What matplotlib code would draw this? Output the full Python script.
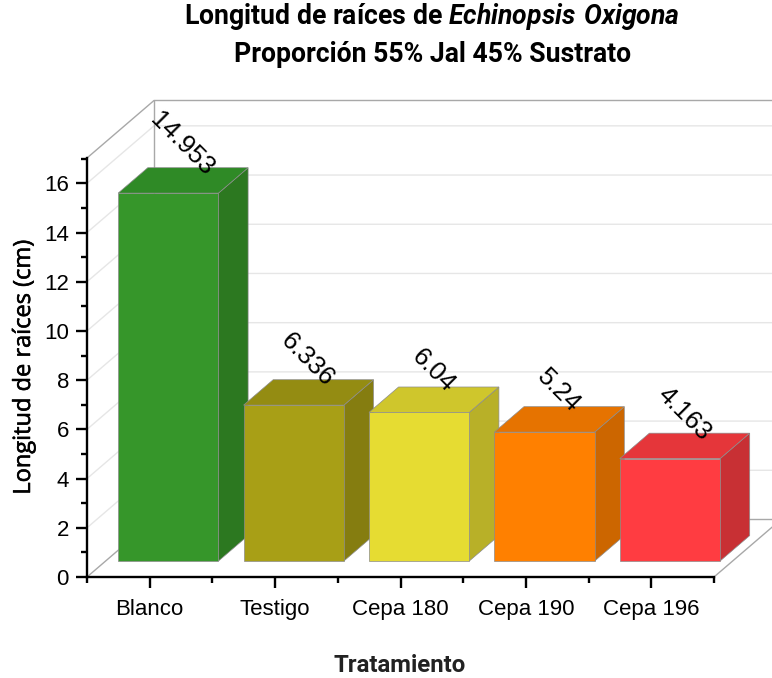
import matplotlib
matplotlib.use("Agg")
import matplotlib.pyplot as plt
import matplotlib.patheffects as pe
from matplotlib.patches import Polygon
from matplotlib.ticker import MultipleLocator, FixedLocator, NullFormatter

# --- Data ---
categories = ['Blanco', 'Testigo', 'Cepa 180', 'Cepa 190', 'Cepa 196']
longitud = [14.953, 6.336, 6.04, 5.24, 4.163]
value_labels = ['14.953', '6.336', '6.04', '5.24', '4.163']

front_colors = ['#36962A', '#A89F16', '#E6DC32', '#FF8000', '#FF3C41']
top_colors = ['#2F8A26', '#948C12', '#CFC62C', '#E67300', '#E5363A']
side_colors = ['#2C7820', '#857D10', '#B8B028', '#CC6600', '#C83034']

# --- Oblique 3D settings, depth 0 = front of the box, 1 = back wall ---
W, H = 772, 678
x0_px, x1_px, y0_px, y1_px = 87, 714, 577, 158
y_max = 17.03
depth_x = 67 / ((x1_px - x0_px) / 5)  # shift in category units for depth 1
depth_y = 57.5 / ((y0_px - y1_px) / y_max)  # shift in value units for depth 1
bar_width = 0.8
d_front, d_back = 0.278, 0.72


def proj(x, y, d):
    return (x + d * depth_x, y + d * depth_y)


plt.rcParams['font.family'] = ['Liberation Sans', 'DejaVu Sans']
plt.rcParams['mathtext.fontset'] = 'custom'
plt.rcParams['mathtext.rm'] = 'Roboto:bold'
plt.rcParams['mathtext.bfit'] = 'Roboto:italic:bold'

fig = plt.figure(figsize=(W / 100, H / 100), dpi=100)
ax = fig.add_axes([x0_px / W, 1 - y0_px / H, (x1_px - x0_px) / W, (y0_px - y1_px) / H])
ax.set_xlim(0.5, 5.5)
ax.set_ylim(0, y_max)
ax.patch.set_visible(False)

# --- Walls and gridlines ---
xl, xr = 0.5, 5.5
for v in range(2, 17, 2):
    xs, ys = zip(proj(xl, v, 0), proj(xl, v, 1), proj(xr, v, 1))
    ax.plot(xs, ys, color='#E6E6E6', lw=1.0, clip_on=False, zorder=1)

frame_col = '#A8A8A8'
frame = [
    [proj(xl, y_max, 0), proj(xl, y_max, 1), proj(xr, y_max, 1)],
    [proj(xl, 0, 1), proj(xl, y_max, 1)],
    [proj(xl, 0, 0), proj(xl, 0, 1), proj(xr, 0, 1)],
    [proj(xr, 0, 0), proj(xr, 0, 1)],
]
for seg in frame:
    xs, ys = zip(*seg)
    ax.plot(xs, ys, color=frame_col, lw=1.0, clip_on=False, zorder=2)

# --- Bars ---
for i, val in enumerate(longitud):
    c = i + 1
    l, r = c - bar_width / 2, c + bar_width / 2
    front = [proj(l, 0, d_front), proj(r, 0, d_front), proj(r, val, d_front), proj(l, val, d_front)]
    top = [proj(l, val, d_front), proj(r, val, d_front), proj(r, val, d_back), proj(l, val, d_back)]
    side = [proj(r, 0, d_front), proj(r, 0, d_back), proj(r, val, d_back), proj(r, val, d_front)]
    for pts, col in [(side, side_colors[i]), (top, top_colors[i]), (front, front_colors[i])]:
        ax.add_patch(Polygon(pts, closed=True, facecolor=col, edgecolor='#8C8C8C', lw=0.5,
                             clip_on=False, zorder=3 + i * 0.1))

# --- Value labels ---
for i, val in enumerate(longitud):
    px, py = proj(i + 1, val, d_back)
    ax.annotate(value_labels[i], (px - depth_x * (d_back - d_front) / 2,
                                  py - depth_y * (d_back - d_front) / 2),
                xytext=(-1, 15 + 3.5 * len(value_labels[i])), textcoords='offset pixels',
                rotation=-45, rotation_mode='anchor', ha='center', va='center',
                fontsize=18.5, color='black', annotation_clip=False, zorder=10)

# --- Axes ---
ax.spines['top'].set_visible(False)
ax.spines['right'].set_visible(False)
ax.spines['left'].set_linewidth(1.7)
ax.spines['bottom'].set_linewidth(1.7)
ax.set_zorder(5)

ax.yaxis.set_major_locator(MultipleLocator(2))
ax.yaxis.set_minor_locator(MultipleLocator(1))
ax.xaxis.set_major_locator(FixedLocator(range(1, 6)))
ax.xaxis.set_minor_locator(FixedLocator([0.5, 1.5, 2.5, 3.5, 4.5, 5.5]))
ax.xaxis.set_minor_formatter(NullFormatter())
ax.set_xticklabels(categories)
ax.tick_params(which='major', length=8, width=1.7, labelsize=16)
ax.tick_params(axis='x', which='major', pad=8)
ax.tick_params(axis='y', which='major', pad=5)
ax.tick_params(which='minor', length=4.5, width=1.7)

# --- Text ---
ylab = fig.text(24 / W, 1 - 367 / H, 'Longitud de raíces (cm)', rotation=90, ha='center', va='center',
                fontsize=17, family=['Open Sans'], color='black')
ylab.set_path_effects([pe.withStroke(linewidth=0.4, foreground='black')])
fig.text(400 / W, 1 - 665 / H, 'Tratamiento', ha='center', va='center',
         fontsize=17.3, family=['Roboto'], fontweight='bold', color='#222222')
fig.text(432 / W, 1 - 17 / H, r'Longitud de raíces de $\mathbfit{Echinopsis\ Oxigona}$', ha='center', va='center',
         fontsize=19.2, family=['Roboto'], fontweight='bold', color='black')
fig.text(433 / W, 1 - 54 / H, 'Proporción 55% Jal 45% Sustrato', ha='center', va='center',
         fontsize=19.2, family=['Roboto'], fontweight='bold', color='black')

fig.savefig('out.png', dpi=100)
